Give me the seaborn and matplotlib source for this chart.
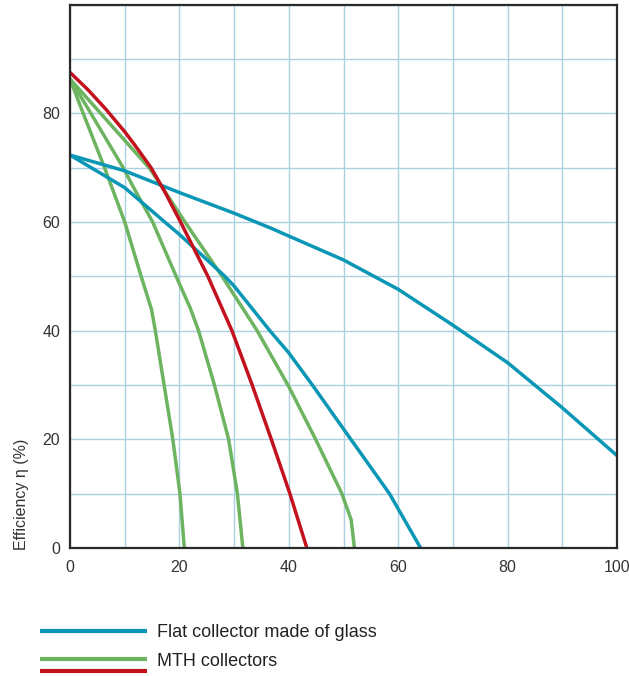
import matplotlib
matplotlib.use("Agg")
import matplotlib.pyplot as plt
import seaborn as sns
import pandas as pd
from matplotlib.lines import Line2D
from matplotlib.legend_handler import HandlerBase
from matplotlib.ticker import MultipleLocator

# ---- data ----
x_flat_a = [0, 10, 20, 30, 36.6, 40, 50, 60, 70, 80, 90, 100]
y_flat_a = [72.3, 69.4, 65.4, 61.6, 58.9, 57.4, 53.0, 47.6, 41.0, 34.1, 25.8, 17.0]

x_flat_b = [0, 10, 17.3, 20, 28.3, 30, 36.6, 40, 44.3, 50, 58.4, 64.1]
y_flat_b = [72.3, 66.3, 60.0, 57.7, 50.0, 48.2, 39.9, 35.9, 30.0, 21.9, 10.0, 0]

x_mth_a = [0, 2.4, 6.3, 10, 13.0, 14.9, 15.6, 17.2, 18.8, 20.1, 20.9]
y_mth_a = [86.3, 80, 70, 60, 50, 43.9, 40, 30, 20, 10, 0]

x_mth_b = [0, 3.8, 9.7, 11.8, 15.1, 19.4, 22.0, 23.5, 26.4, 29.0, 30.6, 31.6]
y_mth_b = [86.3, 80, 70, 66.0, 60, 50, 44.1, 40, 30, 20, 10, 0]

x_mth_c = [0, 5.4, 10, 14.6, 21.0, 27.8, 34.2, 40.0, 44.9, 49.7, 51.4, 52.0]
y_mth_c = [86.3, 80.2, 75.0, 69.8, 60, 50, 40, 29.7, 20, 10, 5.2, 0]

x_red = [0, 3.3, 6.5, 10, 11.8, 14.8, 17.3, 20.2, 25.2, 29.6, 33.3, 36.8, 40.2, 43.3]
y_red = [87.5, 84.3, 80.8, 76.6, 74.2, 70, 65.6, 60, 50, 40, 30, 20, 10, 0]

x_ticks = [0, 20, 40, 60, 80, 100]
y_ticks = [0, 20, 40, 60, 80]
ylabel = "Efficiency η (%)"
legend_labels = ["Flat collector made of glass", "MTH collectors"]

BLUE = "#0a97b6"
GREEN = "#6db461"
RED = "#c3111e"
GRID = "#aad0e2"
SPINE = "#2a2a2a"

sns.set_theme(style="white")
plt.rcParams["font.family"] = ["Liberation Sans Narrow", "Liberation Sans", "DejaVu Sans"]

fig = plt.figure(figsize=(6.29, 6.76), dpi=100)
ax = fig.add_axes([70 / 629, 1 - 548 / 676, 547 / 629, 543.5 / 676])

curves = [
    ("mth_a", x_mth_a, y_mth_a, GREEN),
    ("mth_b", x_mth_b, y_mth_b, GREEN),
    ("mth_c", x_mth_c, y_mth_c, GREEN),
    ("flat_a", x_flat_a, y_flat_a, BLUE),
    ("flat_b", x_flat_b, y_flat_b, BLUE),
    ("red", x_red, y_red, RED),
]
lines = {}
for name, xs, ys, col in curves:
    df = pd.DataFrame({"x": xs, "y": ys})
    sns.lineplot(data=df, x="x", y="y", ax=ax, color=col, linewidth=2.5,
                 estimator=None, sort=False, legend=False)
    ln = ax.get_lines()[-1]
    ln.set_solid_capstyle("butt")
    ln.set_solid_joinstyle("round")
    lines[name] = ln

ax.set_xlim(0, 100)
ax.set_ylim(0, 100)
ax.set_xticks(x_ticks)
ax.set_yticks(y_ticks)
ax.xaxis.set_minor_locator(MultipleLocator(10))
ax.yaxis.set_minor_locator(MultipleLocator(10))
ax.grid(True, which="both", color=GRID, linewidth=1.0)
ax.set_axisbelow(True)
ax.tick_params(axis="both", which="both", length=0, labelsize=11.5, colors="#333333")
ax.tick_params(axis="x", pad=9)
ax.tick_params(axis="y", pad=7)
ax.set_xlabel("")
ax.set_ylabel(ylabel, loc="bottom", fontsize=11.5, color="#333333")
ax.yaxis.set_label_coords(-0.075, -0.004)
for s in ax.spines.values():
    s.set_visible(True)
    s.set_color(SPINE)
    s.set_linewidth(1.6)


class HandlerStack(HandlerBase):
    def __init__(self, gap, **kw):
        super().__init__(**kw)
        self.gap = gap

    def create_artists(self, legend, orig_handle, xdescent, ydescent,
                       width, height, fontsize, trans):
        arts = []
        y0 = height / 2 - ydescent
        for i, h in enumerate(orig_handle):
            l = Line2D([-xdescent, width - xdescent], [y0 - i * self.gap] * 2,
                       color=h.get_color(), lw=3.0, solid_capstyle="butt")
            l.set_transform(trans)
            arts.append(l)
        return arts


blue_handle = Line2D([], [], color=BLUE, lw=3.0, solid_capstyle="butt")
leg = fig.legend(
    [blue_handle, (lines["mth_a"], lines["red"])],
    legend_labels,
    handler_map={tuple: HandlerStack(gap=8)},
    loc="upper left",
    bbox_to_anchor=(40 / 629, 1 - 624 / 676),
    frameon=False,
    fontsize=13,
    handlelength=5.9,
    handletextpad=0.6,
    labelspacing=0.65,
    borderpad=0,
    borderaxespad=0,
)
for t in leg.get_texts():
    t.set_color("#222222")

fig.savefig("out.png", dpi=100)
